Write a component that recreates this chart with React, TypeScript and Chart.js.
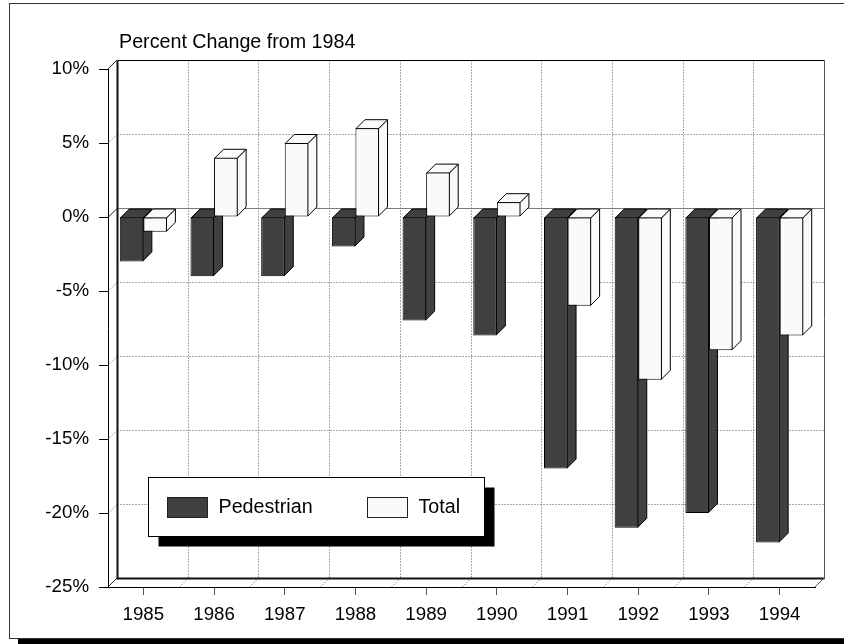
import React, { useEffect, useRef } from "react";
import { Chart, registerables } from "chart.js";

Chart.register(...registerables);

// ---- data ----
const years = ["1985", "1986", "1987", "1988", "1989", "1990", "1991", "1992", "1993", "1994"];
const pedestrian = [-3, -4, -4, -2, -7, -8, -17, -21, -20, -22];
const total = [-1, 4, 5, 6, 3, 1, -6, -11, -9, -8];
const seriesNames = ["Pedestrian", "Total"];
const seriesColors = ["#404040", "#fafafa"];
const yMin = -25;
const yMax = 10;
const yStep = 5;
const titleText = "Percent Change from 1984";

const FONT = "'Liberation Sans', Arial, Helvetica, sans-serif";
const D = 9; // depth of the 3D effect

function poly(ctx: CanvasRenderingContext2D, pts: number[][], fill: string | null, stroke: string | null) {
  ctx.beginPath();
  ctx.moveTo(pts[0][0], pts[0][1]);
  for (let i = 1; i < pts.length; i++) ctx.lineTo(pts[i][0], pts[i][1]);
  ctx.closePath();
  if (fill) {
    ctx.fillStyle = fill;
    ctx.fill();
  }
  if (stroke) {
    ctx.strokeStyle = stroke;
    ctx.lineWidth = 1;
    ctx.stroke();
  }
}

function line(ctx: CanvasRenderingContext2D, x1: number, y1: number, x2: number, y2: number) {
  ctx.beginPath();
  ctx.moveTo(x1, y1);
  ctx.lineTo(x2, y2);
  ctx.stroke();
}

const threeD = {
  id: "threeD",
  beforeDraw(chart: any) {
    const ctx: CanvasRenderingContext2D = chart.ctx;
    const { left } = chart.chartArea;
    ctx.save();
    ctx.fillStyle = "#ffffff";
    ctx.fillRect(0, 0, chart.width, chart.height);
    // outer frame + shadow
    ctx.fillStyle = "#000";
    ctx.fillRect(18, 639, chart.width, 20);
    ctx.strokeStyle = "#333";
    ctx.lineWidth = 1;
    ctx.strokeRect(9.5, 3.5, chart.width + 40, 635);
    // title
    ctx.fillStyle = "#000";
    ctx.font = `19.7px ${FONT}`;
    ctx.textAlign = "left";
    ctx.textBaseline = "middle";
    ctx.fillText(titleText, left + 11, 43);
    ctx.restore();
  },
  beforeDatasetsDraw(chart: any) {
    const ctx: CanvasRenderingContext2D = chart.ctx;
    const { left, right, top, bottom } = chart.chartArea;
    const xs = chart.scales.x;
    const ys = chart.scales.y;
    ctx.save();
    const bl = Math.round(left + D) + 0.5;
    const br = Math.round(right + D) + 0.5;
    const bt = Math.round(top - D) + 0.5;
    const bb = Math.round(bottom - D) + 0.5;

    // dotted grid on back wall, left wall and floor
    ctx.strokeStyle = "#555";
    ctx.lineWidth = 1;
    ctx.setLineDash([1, 2]);
    ys.ticks.forEach((t: any) => {
      const v = t.value;
      if (v === yMin || v === yMax || v === 0) return;
      const py = Math.round(ys.getPixelForValue(v)) + 0.5;
      line(ctx, bl, py - D, br, py - D);
      line(ctx, left, py, left + D, py - D);
    });
    for (let i = 1; i < years.length; i++) {
      const px = Math.round((xs.getPixelForValue(i - 1) + xs.getPixelForValue(i)) / 2) + 0.5;
      line(ctx, px + D, bt, px + D, bb);
      line(ctx, px, bottom, px + D, bottom - D);
    }
    ctx.setLineDash([]);

    // zero line on back wall
    const y0 = Math.round(ys.getPixelForValue(0)) + 0.5;
    ctx.strokeStyle = "#7a7a7a";
    line(ctx, bl, y0 - D, br, y0 - D);
    ctx.strokeStyle = "#222";
    line(ctx, left, y0, left + D, y0 - D);

    // back plane borders
    ctx.strokeStyle = "#000";
    ctx.lineWidth = 1;
    line(ctx, bl, bt, br, bt);
    ctx.strokeStyle = "#555";
    line(ctx, br, bt, br, bb);
    ctx.strokeStyle = "#111";
    ctx.lineWidth = 2;
    line(ctx, bl, bt, bl, bb + 1);
    line(ctx, bl, bb, br, bb);
    ctx.lineWidth = 1;
    ctx.strokeStyle = "#222";
    line(ctx, left, top, left + D, top - D);
    line(ctx, left, bottom, left + D, bottom - D);
    ctx.strokeStyle = "#555";
    line(ctx, right, bottom, right + D, bottom - D);

    // bars: draw series in order (first series behind the second),
    // each with its 3D side/top faces and then the library's own bar element
    chart.data.datasets.forEach((ds: any, di: number) => {
      const meta = chart.getDatasetMeta(di);
      if (meta.hidden) return;
      const color = ds.backgroundColor as string;
      meta.data.forEach((bar: any) => {
        const { x, y, base, width } = bar.getProps(["x", "y", "base", "width"], true);
        const l = x - width / 2;
        const r = x + width / 2 - 0.5;
        const t = Math.min(y, base) + 0.5;
        const b = Math.max(y, base) - 0.5;
        poly(ctx, [[r, t], [r + D, t - D], [r + D, b - D], [r, b]], color, "#000");
        poly(ctx, [[l + 0.5, t], [l + 0.5 + D, t - D], [r + D, t - D], [r, t]], color, "#000");
        bar.draw(ctx, chart.chartArea);
      });
    });
    ctx.restore();
    return false;
  },
  afterDraw(chart: any) {
    const ctx: CanvasRenderingContext2D = chart.ctx;
    const { left } = chart.chartArea;
    const ys = chart.scales.y;
    ctx.save();
    const lx = Math.round(left + 40) + 0.5;
    const ly = Math.round(ys.getPixelForValue(-17.6)) + 0.5;
    const lw = 336;
    const lh = 59;
    ctx.fillStyle = "#000";
    ctx.fillRect(lx + 10, ly + 10, lw, lh);
    ctx.fillStyle = "#fff";
    ctx.fillRect(lx, ly, lw, lh);
    ctx.strokeStyle = "#000";
    ctx.lineWidth = 1;
    ctx.strokeRect(lx, ly, lw, lh);
    ctx.font = `19.7px ${FONT}`;
    ctx.textAlign = "left";
    ctx.textBaseline = "middle";
    const offs = [19, 219];
    chart.data.datasets.forEach((ds: any, i: number) => {
      const sx = lx + offs[i];
      const sy = ly + 20;
      ctx.fillStyle = ds.backgroundColor;
      ctx.fillRect(sx, sy, 40, 20);
      ctx.strokeStyle = "#222";
      ctx.strokeRect(sx, sy, 40, 20);
      ctx.fillStyle = "#000";
      ctx.fillText(ds.label, sx + 51, sy + 10.5);
    });
    ctx.restore();
  },
};

export default function App() {
  const ref = useRef<HTMLCanvasElement | null>(null);
  useEffect(() => {
    if (!ref.current) return;
    const chart = new Chart(ref.current, {
      type: "bar",
      data: {
        labels: years,
        datasets: [
          {
            label: seriesNames[0],
            data: pedestrian,
            backgroundColor: seriesColors[0],
            borderColor: "#000",
            borderWidth: 1,
            borderSkipped: false,
          },
          {
            label: seriesNames[1],
            data: total,
            backgroundColor: seriesColors[1],
            borderColor: "#000",
            borderWidth: 1,
            borderSkipped: false,
          },
        ],
      },
      options: {
        animation: false,
        responsive: false,
        maintainAspectRatio: false,
        layout: { padding: { left: 0, top: 69, right: 29, bottom: 0 } },
        datasets: { bar: { categoryPercentage: 2 / 3, barPercentage: 1 } },
        plugins: {
          legend: { display: false },
          title: { display: false },
          tooltip: { enabled: false },
        },
        scales: {
          x: {
            type: "category",
            grid: {
              offset: false,
              drawOnChartArea: false,
              drawTicks: true,
              tickLength: 8,
              tickColor: "#555",
            },
            border: { display: true, color: "#000", width: 1 },
            ticks: {
              color: "#000",
              font: { family: FONT, size: 18.7 },
              padding: 9,
              maxRotation: 0,
            },
            afterFit: (s: any) => {
              s.height = 57;
            },
          },
          y: {
            type: "linear",
            min: yMin,
            max: yMax,
            grid: {
              drawOnChartArea: false,
              drawTicks: true,
              tickLength: 9,
              tickColor: "#000",
            },
            border: { display: true, color: "#000", width: 1 },
            ticks: {
              stepSize: yStep,
              color: "#000",
              font: { family: FONT, size: 18.7 },
              padding: 10,
              callback: (v: any) => `${v}%`,
            },
            afterFit: (s: any) => {
              s.width = 108;
            },
          },
        },
      },
      plugins: [threeD],
    });
    return () => chart.destroy();
  }, []);
  return (
    <div style={{ position: "fixed", left: 0, top: 0, width: 844, height: 644, background: "#fff" }}>
      <canvas ref={ref} width={844} height={644} style={{ display: "block", width: 844, height: 644 }} />
    </div>
  );
}
